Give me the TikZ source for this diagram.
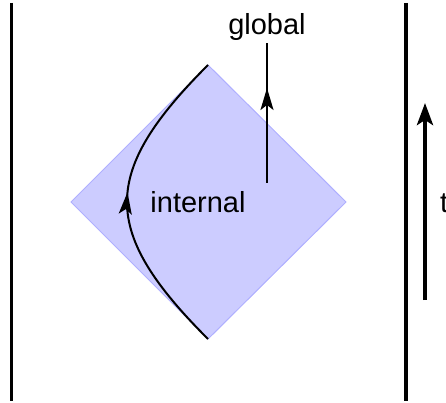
\documentclass[tikz,border=0pt]{standalone}
\usepackage{fontspec}
\setmainfont{Liberation Sans}
\usetikzlibrary{arrows.meta,decorations.markings}
\definecolor{diafill}{RGB}{204,204,255}
\definecolor{diaedge}{RGB}{175,175,255}
\tikzset{
  wall/.style={line width=3.5pt},
  lbl/.style={font=\fontsize{29}{34}\selectfont, inner sep=0pt, anchor=base},
  midarrow/.style={postaction={decorate},decoration={markings,mark=at position #1 with {\arrow{Stealth[length=22pt,width=13pt,inset=5pt]}}}},
}
\begin{document}
\begin{tikzpicture}[x=1pt,y=-1pt]
\useasboundingbox (0,0) rectangle (446,403);
% diamond
\coordinate (top) at (208,65);
\coordinate (bot) at (208,339);
\coordinate (lft) at (71,202);
\coordinate (rgt) at (346,202);
\fill[diafill,draw=diaedge,line width=1pt] (top) -- (rgt) -- (bot) -- (lft) -- cycle;
% walls
\coordinate (lw1) at (11.5,3);
\coordinate (lw2) at (11.5,401);
\coordinate (rw1) at (406,3);
\coordinate (rw2) at (406,401);
\draw[wall] (lw1) -- (lw2);
\draw[wall] (rw1) -- (rw2);
% labels
\node[lbl] (internal) at (198,212) {internal};
\node[lbl] (global) at (267,35) {global};
\node[lbl,anchor=base west] (t) at (440,212) {t};
% internal curve
\draw[line width=2pt,midarrow=0.53] (bot) .. controls (100,231) and (100,173) .. (top);
% global arrow
\coordinate (gs) at (267,183);
\coordinate (ge) at (267,43);
\draw[line width=2pt,midarrow=95pt] (gs) -- (ge);
% time arrow
\coordinate (ts) at (425,300);
\coordinate (te) at (425,103);
\draw[line width=4pt,-{Stealth[length=22pt,width=16pt,inset=5pt]}] (ts) -- (te);
\end{tikzpicture}
\end{document}
